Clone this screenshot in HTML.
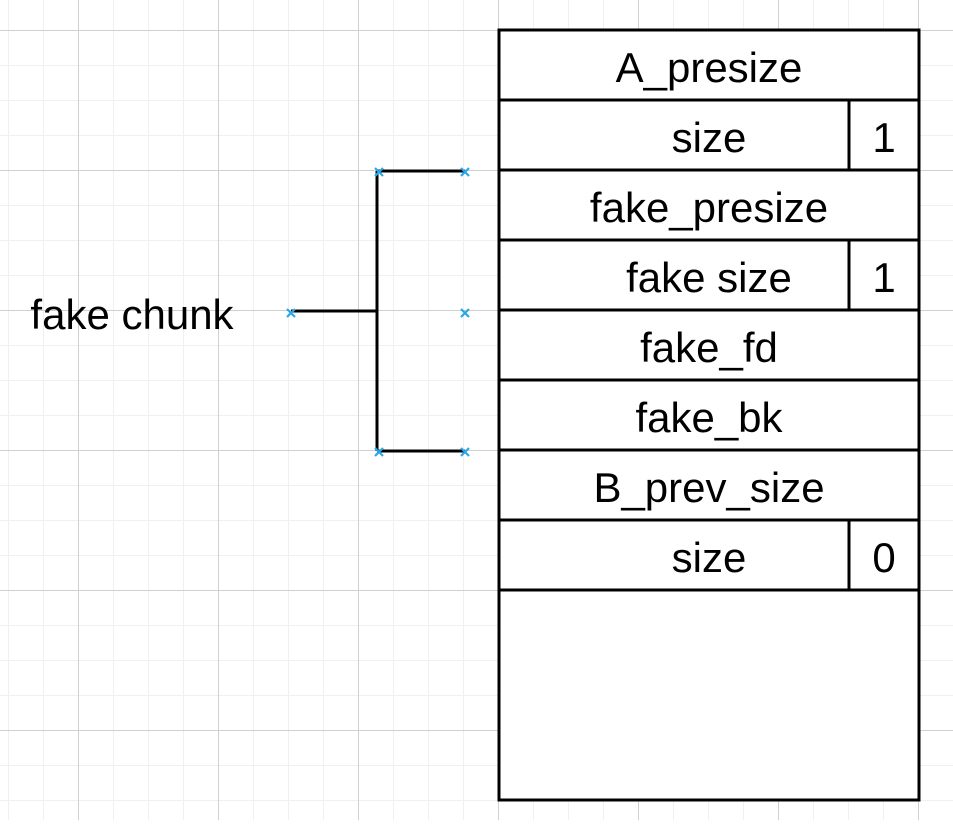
<!DOCTYPE html>
<html><head><style>html,body{margin:0;padding:0;background:#fff}</style></head>
<body>
<svg width="953" height="820" xmlns="http://www.w3.org/2000/svg" font-family="Liberation Sans, Arial, sans-serif" font-size="42">
<defs>
<pattern id="minor" x="8" y="30" width="35" height="35" patternUnits="userSpaceOnUse">
<path d="M0 0V35M0 0H35" stroke="#f0f0f0" stroke-width="2" fill="none"/>
</pattern>
<pattern id="major" x="78" y="30" width="140" height="140" patternUnits="userSpaceOnUse">
<path d="M0.5 0V140M0 0.5H140" stroke="#d0d0d0" stroke-width="1" fill="none"/>
</pattern>
</defs>
<rect width="953" height="820" fill="url(#minor)"/>
<rect width="953" height="820" fill="url(#major)"/>
<g stroke="#000" stroke-width="3" fill="none">
<rect x="499" y="30" width="420" height="770" fill="#fff"/>
<path d="M499 100H919M499 170H919M499 240H919M499 310H919M499 380H919M499 450H919M499 520H919M499 590H919"/>
<path d="M849 100V170M849 240V310M849 520V590"/>
<path d="M377 171H465M377 451H465M377 171V451M291 311H377"/>
</g>
<g stroke="#29a8e8" stroke-width="2.2">
<path d="M375 168l8 8M383 168l-8 8M461 168l8 8M469 168l-8 8M461 309l8 8M469 309l-8 8M375 448l8 8M383 448l-8 8M461 448l8 8M469 448l-8 8M287 309l8 8M295 309l-8 8"/>
</g>
<g text-anchor="middle" fill="#000">
<text x="709" y="82">A_presize</text>
<text x="709" y="152">size</text>
<text x="884" y="152">1</text>
<text x="709" y="222">fake_presize</text>
<text x="709" y="292">fake size</text>
<text x="884" y="292">1</text>
<text x="709" y="362">fake_fd</text>
<text x="709" y="432">fake_bk</text>
<text x="709" y="502">B_prev_size</text>
<text x="709" y="572">size</text>
<text x="884" y="572">0</text>
<text x="132" y="329">fake chunk</text>
</g>
</svg>
</body></html>
